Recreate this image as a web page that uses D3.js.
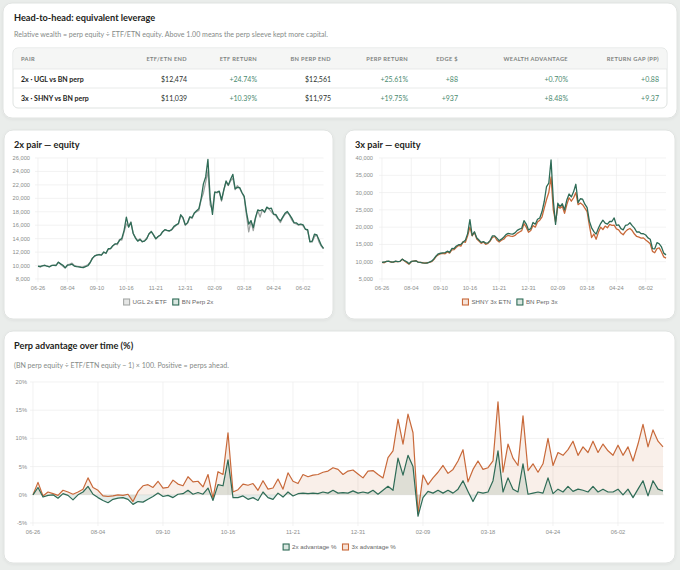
<!DOCTYPE html>
<html>
<head>
<meta charset="utf-8">
<script src="https://cdn.jsdelivr.net/npm/d3@7"></script>
<style>
  body { margin: 0; background: #eaedeb; }
  svg { display: block; font-family: Lato, "Noto Sans", sans-serif; }
</style>
</head>
<body>
<svg id="stage" width="680" height="570"></svg>
<script>
// ---- data ----
var tickLabels = ['06-26', '08-04', '09-10', '10-16', '11-21', '12-31', '02-09', '03-18', '04-24', '06-02'];

var pairNames = ['2x · UGL vs BN perp', '3x · SHNY vs BN perp'];
var etfEnd = [12474, 11039];
var etfReturn = [24.74, 10.39];
var perpEnd = [12561, 11975];
var perpReturn = [25.61, 19.75];
var edgeDollars = [88, 937];
var wealthAdvantage = [0.70, 8.48];
var returnGap = [0.88, 9.37];

// UGL 2x ETF equity, every 2nd trading day
var etf2x = [9900, 9750, 10000, 10050, 9900, 9850, 10000, 10050, 10100, 10500,
  10200, 9900, 9650, 10100, 10200, 10350, 10000, 9900, 9850, 9800,
  9850, 9950, 10100, 10500, 11100, 11400, 11600, 11650, 11600, 12000,
  11800, 12400, 12500, 12900, 13200, 13100, 13900, 13800, 15000, 16200,
  15800, 16500, 14800, 14200, 13700, 14000, 13500, 13700, 14100, 14700,
  15100, 14500, 14000, 14300, 14500, 15000, 15300, 15200, 15100, 15300,
  15700, 16000, 16200, 17500, 17000, 16000, 16300, 17200, 17000, 17800,
  18000, 18200, 19800, 20800, 22400, 24100, 19000, 18300, 21000, 20800,
  21000, 19600, 21200, 22400, 21900, 22600, 23000, 21300, 21900, 21500,
  20800, 20200, 17500, 15000, 16600, 15200, 17000, 18200, 17200, 18300,
  17900, 18600, 18400, 18000, 17600, 17400, 16900, 16400, 17100, 17600,
  17900, 17500, 16800, 16300, 16200, 16000, 16100, 15900, 15400, 15200,
  13600, 13500, 14300, 14600, 13500, 12900, 12474];

// SHNY 3x ETN equity
var etn3x = [9800, 9700, 10100, 10100, 9900, 9900, 10100, 10000, 10100, 10700,
  10200, 9700, 9300, 10000, 10200, 10300, 9900, 9800, 9700, 9600,
  9700, 9800, 10000, 10600, 11500, 12000, 12300, 12400, 12300, 12800,
  12500, 13400, 13500, 14200, 14700, 14500, 15800, 15600, 17500, 20000,
  17500, 18500, 16600, 16000, 15300, 15700, 15000, 15300, 16000, 17000,
  17300, 16200, 15700, 16200, 16500, 17300, 17600, 17400, 17300, 17600,
  18200, 18600, 19000, 21000, 20000, 18500, 19000, 20500, 20000, 21500,
  22000, 23000, 25500, 28000, 30000, 34500, 25000, 21500, 26000, 25500,
  26000, 24000, 26500, 28500, 27500, 28500, 30000, 26500, 27000, 26500,
  25500, 24500, 20500, 17000, 18000, 16500, 18500, 20000, 19300, 20300,
  19800, 20800, 20500, 20600, 19500, 19200, 18300, 17800, 18700, 19300,
  19600, 19000, 18000, 17300, 17100, 16800, 16900, 16300, 15800, 15200,
  13000, 12600, 13800, 14000, 12800, 11400, 11039];

// perp advantage, % (BN perp equity / ETF equity - 1)
var adv2x = [0, 1.3, -0.4, -0.1, 0, -0.6, 0.2, -0.1, -0.9, 0,
  0.5, 1.5, 0.1, -0.5, -1.0, -1.4, -0.8, -0.6, -0.5, -0.8,
  -1.7, -1.2, -1.3, -0.8, -0.3, 0.3, -0.3, -0.1, -0.5, 0.1,
  0.2, 0.8, 0.1, 0.4, 0.1, 1.2, -1.0, 1.8, 1.6, 6.2,
  -0.5, -0.5, -0.2, -0.8, -0.5, -1.0, 0.5, -0.5, -0.8, 0.3,
  -0.4, 0.5, -0.2, 0.2, 0.3, 0.2, 0.3, 0.2, 0.5, 0.3,
  0.8, 0.3, 0.4, 0.3, 0.7, 0.3, 0.5, 0.3, 0.8, 0.1,
  0.8, 1.5, 0.8, 6.5, 3.5, 7.0, 5.0, -3.8, -0.5, 0.6,
  0.3, 0.8, 0.3, 0.8, 0.3, 1.0, 2.5, 0.6, -1.2, 0.5,
  0.3, 0.5, 2.5, 7.8, 0.5, 3.0, 1.0, 0.5, 5.5, 0.1,
  0.3, 0.5, 0.3, 3.0, 0.2, 1.0, 0.5, 1.5, 0.6, 1.0,
  0.8, 0.5, 1.5, 0.5, 1.0, 0.5, 0.5, 1.0, 0.0, 1.0,
  -0.5, 1.0, 2.5, -0.2, 2.5, 1.0, 0.70];

var adv3x = [0, 2.2, -0.2, 0.5, 0.2, -0.1, 0.8, 0.5, 0.1, 0.5,
  1.0, 3.0, 1.3, 0.8, -0.2, -0.3, -0.2, 0, -0.1, 0.1,
  -1.2, 0.6, 1.6, 1.8, 1.3, 2.4, 1.2, 1.3, 2.6, 1.9,
  1.6, 3.2, 2.3, 2.4, 1.4, 3.6, -0.6, 4.1, 3.6, 11.0,
  0.5, 0.9, 1.9, 1.7, 2.0, 0.8, 2.5, 1.0, 1.2, 2.8,
  1.0, 3.9, 2.4, 2.0, 3.6, 3.2, 3.5, 3.6, 4.0, 4.2,
  4.8, 4.5, 3.6, 4.2, 4.4, 3.7, 3.0, 4.2, 4.3, 3.6,
  3.0, 6.6, 7.8, 13.4, 9.0, 14.3, 11.0, -3.3, 3.5, 1.8,
  3.0, 4.0, 5.2, 3.8, 4.5, 6.0, 8.0, 2.3, 4.5, 6.0,
  4.5, 4.8, 6.0, 16.5, 4.0, 9.0, 6.5, 5.2, 14.0, 4.3,
  5.5, 4.0, 5.5, 10.0, 5.2, 7.5, 7.0, 8.0, 9.5, 7.0,
  8.5, 7.5, 9.5, 7.5, 9.0, 7.8, 7.0, 8.8, 7.0, 8.5,
  6.0, 9.0, 12.5, 8.5, 11.5, 9.5, 8.48];

// perp equity follows from ETF equity and the advantage
var perp2x = etf2x.map(function (v, i) { return v * (1 + adv2x[i] / 100); });
var perp3x = etn3x.map(function (v, i) { return v * (1 + adv3x[i] / 100); });

// ---- drawing ----
var svg = d3.select('#stage'),
    GREEN = '#2e6b56',
    ORANGE = '#c8693a',
    GRAY = '#9fa3a1',
    GRID = '#ececec',
    TICK = '#8a8d8b',
    TICK_EVERY = 13,
    TICK_FONT = '"Liberation Sans", Arial, sans-serif';

var defs = svg.append('defs');
defs.append('filter').attr('id', 'soft')
  .attr('x', '-5%').attr('y', '-5%').attr('width', '110%').attr('height', '115%')
  .append('feDropShadow')
    .attr('dx', 0).attr('dy', 1).attr('stdDeviation', 1.5)
    .attr('flood-color', '#000').attr('flood-opacity', 0.06);

function card(x, y, w, h) {
  svg.append('rect')
    .attr('x', x).attr('y', y).attr('width', w).attr('height', h)
    .attr('rx', 9)
    .attr('fill', '#fff')
    .attr('stroke', '#e0e3e1')
    .attr('filter', 'url(#soft)');
}

function title(x, y, txt, size) {
  svg.append('text')
    .attr('x', x).attr('y', y)
    .attr('font-size', size || 9.2)
    .attr('font-weight', 700)
    .attr('fill', '#1d2320')
    .text(txt);
}

function note(x, y, txt) {
  svg.append('text')
    .attr('x', x).attr('y', y)
    .attr('font-size', 7.05)
    .attr('fill', '#858a87')
    .text(txt);
}

function legend(cx, cy, items) {
  var g = svg.append('g'),
      pos = 0;
  items.forEach(function (it) {
    var item = g.append('g').attr('transform', 'translate(' + pos + ',0)');
    item.append('rect')
      .attr('x', 0).attr('y', -3).attr('width', 6).attr('height', 6)
      .attr('fill', it.fill).attr('stroke', it.color).attr('stroke-width', 1.1);
    var t = item.append('text')
      .attr('x', 9).attr('y', 2.3)
      .attr('font-size', 6.2)
      .attr('font-family', TICK_FONT)
      .attr('fill', '#666')
      .text(it.label);
    pos += 9 + t.node().getComputedTextLength() + 6;
  });
  g.attr('transform', 'translate(' + (cx - (pos - 6) / 2) + ',' + cy + ')');
}

function axes(x, y, yTicks, yFmt, box) {
  var g = svg.append('g');
  g.selectAll('line.h')
    .data(yTicks)
    .enter().append('line')
      .attr('x1', box.left - 3).attr('x2', box.right)
      .attr('y1', function (d) { return y(d); })
      .attr('y2', function (d) { return y(d); })
      .attr('stroke', GRID).attr('stroke-width', 0.7);
  g.selectAll('text.h')
    .data(yTicks)
    .enter().append('text')
      .attr('x', box.labelX)
      .attr('y', function (d) { return y(d) + 2; })
      .attr('text-anchor', 'end')
      .attr('font-size', 5.7)
      .attr('font-family', TICK_FONT)
      .attr('fill', TICK)
      .text(yFmt);
  var xt = tickLabels.map(function (t, k) { return { i: k * TICK_EVERY, label: t }; });
  g.selectAll('line.v')
    .data(xt)
    .enter().append('line')
      .attr('x1', function (d) { return x(d.i); })
      .attr('x2', function (d) { return x(d.i); })
      .attr('y1', box.top).attr('y2', box.bottom + 3)
      .attr('stroke', GRID).attr('stroke-width', 0.7);
  g.selectAll('text.v')
    .data(xt)
    .enter().append('text')
      .attr('x', function (d) { return x(d.i); })
      .attr('y', box.bottom + 11)
      .attr('text-anchor', 'middle')
      .attr('font-size', 5.7)
      .attr('font-family', TICK_FONT)
      .attr('fill', TICK)
      .text(function (d) { return d.label; });
}

function line(x, y, values, color, width) {
  svg.append('path')
    .datum(values)
    .attr('fill', 'none')
    .attr('stroke', color)
    .attr('stroke-width', width)
    .attr('stroke-linejoin', 'round')
    .attr('d', d3.line()
      .x(function (d, i) { return x(i); })
      .y(function (d) { return y(d); }));
}

function equityChart(o) {
  var x = d3.scaleLinear().domain([0, o.a.length - 1]).range([o.left, o.right]),
      y = d3.scaleLinear().domain(o.domain).range([o.bottom, o.top]);
  axes(x, y, y.ticks(o.nTicks), d3.format(','), o);
  line(x, y, o.a, o.colorA, 1.3);
  line(x, y, o.b, o.colorB, 1.3);
}

// cards
card(3, 3, 674, 115);
card(4, 130, 329, 189);
card(345, 130, 330, 189);
card(4, 331, 671, 232);

// ---- head-to-head table ----
title(14, 21, 'Head-to-head: equivalent leverage');
note(14, 37, 'Relative wealth = perp equity \u00f7 ETF/ETN equity. Above 1.00 means the perp sleeve kept more capital.');

svg.append('rect')
  .attr('x', 13).attr('y', 48).attr('width', 654).attr('height', 60)
  .attr('rx', 5).attr('fill', '#fff').attr('stroke', '#dfe3e1');
svg.append('path')
  .attr('d', 'M13.5,69 V53 a4.5,4.5 0 0 1 4.5,-4.5 H662 a4.5,4.5 0 0 1 4.5,4.5 V69 Z')
  .attr('fill', '#f5f6f5');
[69, 88].forEach(function (yy) {
  svg.append('line').attr('x1', 13).attr('x2', 667).attr('y1', yy).attr('y2', yy)
    .attr('stroke', '#e3e6e4').attr('stroke-width', 0.8);
});

var fmtMoney = function (v) { return '$' + d3.format(',')(v); },
    fmtPct = function (v) { return '+' + v.toFixed(2) + '%'; },
    fmtPlus = function (v) { return '+' + v; },
    fmtPlus2 = function (v) { return '+' + v.toFixed(2); };

var columns = [
  { label: 'PAIR', x: 21, anchor: 'start', values: pairNames, fmt: String, color: '#1d2320', bold: true },
  { label: 'ETF/ETN END', x: 187, values: etfEnd, fmt: fmtMoney, color: '#2c312e' },
  { label: 'ETF RETURN', x: 257, values: etfReturn, fmt: fmtPct, color: '#4b8a6f' },
  { label: 'BN PERP END', x: 331, values: perpEnd, fmt: fmtMoney, color: '#2c312e' },
  { label: 'PERP RETURN', x: 408, values: perpReturn, fmt: fmtPct, color: '#4b8a6f' },
  { label: 'EDGE $', x: 458, values: edgeDollars, fmt: fmtPlus, color: '#4b8a6f' },
  { label: 'WEALTH ADVANTAGE', x: 568, values: wealthAdvantage, fmt: fmtPct, color: '#4b8a6f' },
  { label: 'RETURN GAP (PP)', x: 659, values: returnGap, fmt: fmtPlus2, color: '#4b8a6f' }
];
var rowY = [81.5, 100.5];

columns.forEach(function (c) {
  svg.append('text')
    .attr('x', c.x).attr('y', 60.6)
    .attr('text-anchor', c.anchor || 'end')
    .attr('font-size', 5.7)
    .attr('font-weight', 700)
    .attr('letter-spacing', 0.35)
    .attr('fill', '#7d827f')
    .text(c.label);
  svg.selectAll(null)
    .data(c.values)
    .enter().append('text')
      .attr('x', c.x)
      .attr('y', function (d, i) { return rowY[i]; })
      .attr('text-anchor', c.anchor || 'end')
      .attr('font-size', 7)
      .attr('font-weight', c.bold ? 700 : 400)
      .attr('fill', c.color)
      .text(c.fmt);
});

// ---- 2x pair equity ----
title(14, 148, '2x pair \u2014 equity');
equityChart({
  a: etf2x, b: perp2x, colorA: GRAY, colorB: GREEN,
  left: 38, right: 323.5, top: 158, bottom: 279, labelX: 30,
  domain: [8000, 26000], nTicks: 10
});
legend(168.5, 302, [
  { label: 'UGL 2x ETF', color: '#a5a8a6', fill: '#e6e7e6' },
  { label: 'BN Perp 2x', color: GREEN, fill: '#d9e6e0' }
]);

// ---- 3x pair equity ----
title(355, 148, '3x pair \u2014 equity');
equityChart({
  a: etn3x, b: perp3x, colorA: ORANGE, colorB: GREEN,
  left: 382, right: 666, top: 158, bottom: 279, labelX: 373,
  domain: [5000, 40000], nTicks: 7
});
legend(510, 302, [
  { label: 'SHNY 3x ETN', color: ORANGE, fill: '#f6e3d9' },
  { label: 'BN Perp 3x', color: GREEN, fill: '#d9e6e0' }
]);

// ---- perp advantage over time ----
title(14, 349, 'Perp advantage over time (%)');
note(14, 367.5, '(BN perp equity \u00f7 ETF/ETN equity \u2212 1) \u00d7 100. Positive = perps ahead.');

var advBox = { left: 33, right: 664, top: 382, bottom: 523, labelX: 27 },
    xA = d3.scaleLinear().domain([0, adv2x.length - 1]).range([advBox.left, 663]),
    yA = d3.scaleLinear().domain([-5, 20]).range([advBox.bottom, advBox.top]);

axes(xA, yA, yA.ticks(5), function (d) { return d + '%'; }, advBox);

var area = d3.area()
  .x(function (d, i) { return xA(i); })
  .y0(yA(0))
  .y1(function (d) { return yA(d); });

svg.append('path').datum(adv3x).attr('fill', ORANGE).attr('fill-opacity', 0.11).attr('d', area);
svg.append('path').datum(adv2x).attr('fill', GREEN).attr('fill-opacity', 0.13).attr('d', area);
line(xA, yA, adv3x, ORANGE, 1.2);
line(xA, yA, adv2x, GREEN, 1.2);

legend(339.5, 547, [
  { label: '2x advantage %', color: GREEN, fill: '#d9e6e0' },
  { label: '3x advantage %', color: ORANGE, fill: '#f6e3d9' }
]);
</script>
</body>
</html>
